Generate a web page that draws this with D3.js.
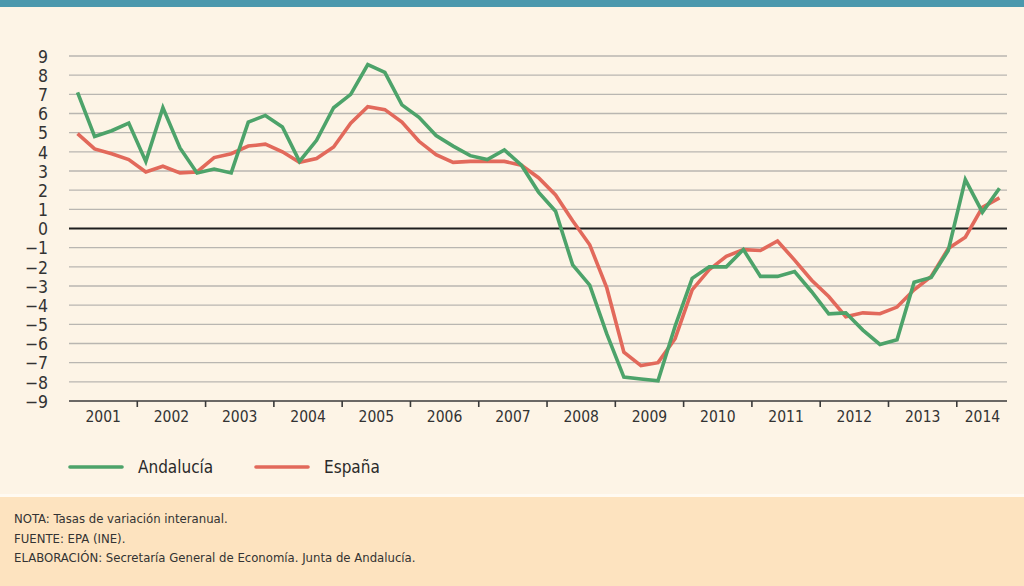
<!DOCTYPE html>
<html>
<head>
<meta charset="utf-8">
<script src="https://cdn.jsdelivr.net/npm/d3@7"></script>
<style>
  html, body { margin: 0; padding: 0; background: #fdf4e6; }
  svg { display: block; }
</style>
</head>
<body>
<div id="chart"></div>
<script>
/* ── Data ─────────────────────────────────────────────── */

const years = ['2001','2002','2003','2004','2005','2006','2007',
               '2008','2009','2010','2011','2012','2013','2014'];

// quarterly year-on-year rates, 2001 Q1 .. 2014 Q3
const andalucia = [
  7.1, 4.8, 5.1, 5.5, 3.5, 6.3, 4.2, 2.9,
  3.1, 2.9, 5.55, 5.9, 5.3, 3.5, 4.6, 6.3,
  7.0, 8.55, 8.15, 6.45, 5.8, 4.85, 4.3, 3.8,
  3.6, 4.1, 3.3, 1.9, 0.9, -1.9, -2.95, -5.5,
  -7.75, -7.85, -7.95, -5.1, -2.6, -2.0, -2.0, -1.1,
  -2.5, -2.5, -2.25, -3.3, -4.45, -4.4, -5.3, -6.05,
  -5.8, -2.8, -2.55, -1.15, 2.55, 0.85, 2.1
];

const espana = [
  4.95, 4.15, 3.9, 3.6, 2.95, 3.25, 2.9, 2.95,
  3.7, 3.9, 4.3, 4.4, 4.0, 3.45, 3.65, 4.25,
  5.5, 6.35, 6.2, 5.55, 4.55, 3.85, 3.45, 3.5,
  3.5, 3.5, 3.3, 2.65, 1.75, 0.4, -0.85, -3.1,
  -6.45, -7.15, -7.0, -5.75, -3.2, -2.15, -1.45, -1.1,
  -1.15, -0.65, -1.65, -2.7, -3.55, -4.6, -4.4, -4.45,
  -4.1, -3.2, -2.5, -1.05, -0.45, 1.1, 1.6
];

const yTicks = d3.range(-9, 10);

const seriesNames  = ['Andalucía', 'España'];
const seriesColors = ['#4da36a', '#e2695b'];

const notes = [
  'NOTA: Tasas de variación interanual.',
  'FUENTE: EPA (INE).',
  'ELABORACIÓN: Secretaría General de Economía. Junta de Andalucía.'
];

/* ── Layout ───────────────────────────────────────────── */

const W = 1024, H = 586;
const M = { left: 69, right: 1008, top: 56, bottom: 401 };
const FONT = '"DejaVu Sans Condensed", "Liberation Sans Narrow", "Roboto", sans-serif';

const svg = d3.select('#chart').append('svg')
  .attr('width', W)
  .attr('height', H);

svg.append('rect').attr('width', W).attr('height', H).attr('fill', '#fdf4e6');
svg.append('rect').attr('width', W).attr('height', 7).attr('fill', '#4b98ad');

// footer band
svg.append('rect').attr('x', 0).attr('y', 494).attr('width', W).attr('height', 3).attr('fill', '#fffaf2');
svg.append('rect').attr('x', 0).attr('y', 497).attr('width', W).attr('height', H - 497).attr('fill', '#fde3bf');

/* ── Scales ───────────────────────────────────────────── */

const nQ = andalucia.length;
const x = d3.scaleLinear().domain([0, nQ]).range([M.left, M.right]);
const y = d3.scaleLinear().domain([-9, 9]).range([M.bottom, M.top]);
const qx = i => x(i + 0.5);

/* ── Grid ─────────────────────────────────────────────── */

svg.append('g')
  .selectAll('line')
  .data(yTicks.filter(t => t !== 0 && t !== -9))
  .join('line')
  .attr('x1', M.left).attr('x2', M.right - 1)
  .attr('y1', d => y(d)).attr('y2', d => y(d))
  .attr('stroke', '#b9b6b1')
  .attr('stroke-width', 1.3);

// y labels
const yAxis = d3.axisLeft(y).tickValues(yTicks).tickSize(0).tickPadding(0);
svg.append('g')
  .attr('transform', `translate(${M.left - 21},0)`)
  .call(yAxis)
  .call(g => g.select('.domain').remove())
  .selectAll('text')
  .attr('font-family', FONT)
  .attr('font-size', 17.5)
  .attr('fill', '#333')
  .attr('dy', '0.36em');

// x axis: ticks at year boundaries, labels centred in each year
const xAxisG = svg.append('g');
xAxisG.append('line')
  .attr('x1', M.left).attr('x2', M.right - 1)
  .attr('y1', M.bottom).attr('y2', M.bottom)
  .attr('stroke', '#3a3a3a').attr('stroke-width', 1.6);

const boundaries = d3.range(1, years.length).map(k => k * 4);
xAxisG.selectAll('line.tick')
  .data(boundaries)
  .join('line')
  .attr('class', 'tick')
  .attr('x1', d => x(d)).attr('x2', d => x(d))
  .attr('y1', M.bottom).attr('y2', M.bottom + 6)
  .attr('stroke', '#3a3a3a').attr('stroke-width', 1.6);

xAxisG.selectAll('text')
  .data(years)
  .join('text')
  .attr('x', (d, k) => x((k * 4 + Math.min(k * 4 + 4, nQ)) / 2))
  .attr('y', 422)
  .attr('text-anchor', 'middle')
  .attr('font-family', FONT)
  .attr('font-size', 15.5)
  .attr('fill', '#333')
  .text(d => d);

// zero line
svg.append('line')
  .attr('x1', M.left).attr('x2', M.right - 1)
  .attr('y1', y(0)).attr('y2', y(0))
  .attr('stroke', '#1e1e1e').attr('stroke-width', 2.2);

/* ── Lines ────────────────────────────────────────────── */

const line = d3.line().x((d, i) => qx(i)).y(d => y(d));

[espana, andalucia].forEach((s, k) => {
  svg.append('path')
    .datum(s)
    .attr('d', line)
    .attr('fill', 'none')
    .attr('stroke', seriesColors[1 - k])
    .attr('stroke-width', 3.6)
    .attr('stroke-linejoin', 'miter');
});

/* ── Legend ───────────────────────────────────────────── */

const legendX = [70, 256];
seriesNames.forEach((name, k) => {
  svg.append('line')
    .attr('x1', legendX[k]).attr('x2', legendX[k] + 52)
    .attr('y1', 467).attr('y2', 467)
    .attr('stroke', seriesColors[k])
    .attr('stroke-width', 3.6)
    .attr('stroke-linecap', 'round');
  svg.append('text')
    .attr('x', legendX[k] + 68)
    .attr('y', 473)
    .attr('font-family', FONT)
    .attr('font-size', 17)
    .attr('fill', '#2a2a2a')
    .text(name);
});

/* ── Notes ────────────────────────────────────────────── */

svg.append('g')
  .selectAll('text')
  .data(notes)
  .join('text')
  .attr('x', 14)
  .attr('y', (d, i) => 523 + i * 19.5)
  .attr('font-family', FONT)
  .attr('font-size', 13)
  .attr('fill', '#333')
  .text(d => d);
</script>
</body>
</html>
